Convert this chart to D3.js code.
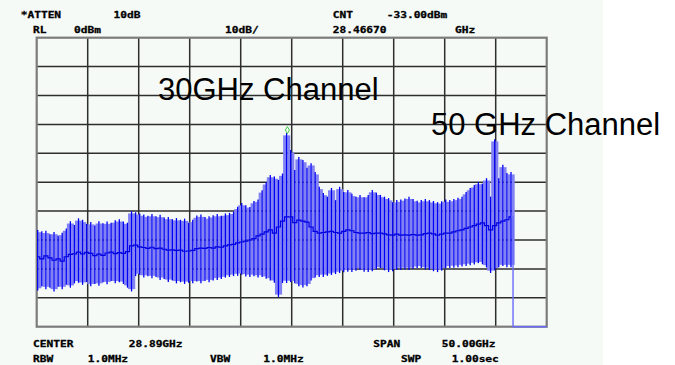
<!DOCTYPE html>
<html>
<head>
<meta charset="utf-8">
<script src="https://cdn.jsdelivr.net/npm/d3@7"></script>
<style>
  html, body { margin: 0; padding: 0; background: #ffffff; }
  svg { display: block; }
</style>
</head>
<body>
<svg id="chart" width="675" height="365"></svg>
<script>
// ---- Analyzer settings ----
const centerGHz = 28.89;
const spanGHz = 50.0;
const refLevelDbm = 0;
const dbPerDiv = 10;
const divisions = 10;
const sweepStartGHz = 3.99;   // first displayed sweep column
const sweepStepGHz = 0.4;     // column spacing
const floorDbm = -100;        // bottom of display
const markerFreqGHz = 28.4667;
const markerLevelDbm = -33.00;

// ---- Trace: per-column peak, trough and average level (dBm) ----
const hiDbm = [
  -66.5, -67.0, -66.8, -68.0, -67.2, -68.5, -67.5, -66.0, -63.5, -64.8,
  -62.5, -63.0, -64.5, -63.8, -65.0, -63.5, -64.2, -63.6, -64.0, -63.2,
  -62.8, -63.6, -64.0, -60.0, -60.4, -60.8, -61.2, -61.6, -61.0, -61.8,
  -61.3, -62.2, -62.0, -62.8, -62.4, -63.0, -62.6, -64.0, -63.0, -61.5,
  -61.2, -62.0, -61.8, -61.4, -61.0, -61.6, -60.8, -60.6, -60.2, -58.5,
  -57.2, -58.0, -58.6, -56.5, -56.0, -52.8, -50.0, -47.5, -48.0, -49.2,
  -47.0, -33.0, -38.9, -45.8, -41.3, -42.3, -45.0, -43.4, -46.5, -51.6,
  -53.7, -55.0, -52.0, -56.2, -51.6, -53.4, -52.7, -54.0, -55.0, -54.4,
  -55.2, -54.4, -52.7, -53.6, -54.4, -55.0, -55.5, -56.9, -56.2, -56.0,
  -55.6, -55.0, -55.8, -56.4, -56.2, -55.8, -56.2, -56.5, -56.9, -56.6,
  -56.0, -56.2, -55.8, -55.4, -55.0, -53.4, -52.0, -51.0, -49.9, -50.5,
  -48.6, -55.0, -35.1, -48.6, -44.0, -46.8, -46.5
];
const loDbm = [
  -87.5, -86.0, -87.0, -86.5, -87.8, -86.2, -87.0, -85.5, -86.5, -85.0,
  -84.8, -85.5, -84.5, -86.0, -85.2, -85.8, -84.6, -85.3, -84.2, -85.0,
  -84.6, -85.2, -86.5, -87.8, -82.5, -82.0, -83.0, -82.5, -83.2, -82.8,
  -83.8, -83.5, -84.5, -84.0, -85.0, -84.6, -85.2, -84.8, -85.0, -84.4,
  -85.0, -84.2, -84.6, -84.0, -83.8, -83.5, -83.0, -82.8, -82.5, -82.4,
  -82.0, -82.6, -82.8, -82.5, -83.0, -82.8, -83.4, -84.0, -84.8, -89.7,
  -84.9, -84.9, -84.5, -85.0, -86.0, -86.4, -86.0, -84.0, -83.0, -82.8,
  -82.8, -82.4, -82.1, -81.8, -81.4, -81.2, -81.0, -81.1, -80.6, -80.4,
  -81.0, -81.1, -80.8, -80.2, -79.7, -80.5, -81.1, -80.8, -80.4, -80.4,
  -80.2, -80.4, -80.0, -79.8, -79.7, -80.2, -80.4, -80.8, -81.1, -80.6,
  -79.8, -79.7, -79.6, -79.4, -79.2, -79.0, -78.7, -78.5, -78.0, -78.4,
  -79.5, -81.4, -80.5, -79.4, -79.0, -79.4, -79.4
];
const midDbm = [
  -75.8, -76.5, -75.5, -76.2, -77.0, -76.5, -77.3, -75.8, -75.0, -74.8,
  -74.2, -74.8, -74.3, -74.6, -75.4, -74.9, -75.3, -74.5, -74.2, -74.7,
  -74.4, -74.6, -74.0, -72.0, -71.8, -72.4, -72.6, -72.9, -72.5, -73.0,
  -72.8, -73.2, -73.5, -73.4, -73.6, -73.5, -73.9, -73.8, -73.6, -73.0,
  -72.8, -72.9, -72.6, -72.8, -72.4, -72.5, -72.0, -71.7, -71.5, -71.0,
  -70.7, -70.4, -70.0, -69.5, -68.6, -68.0, -67.2, -66.5, -67.6, -65.5,
  -63.5, -62.0, -62.0, -64.0, -63.1, -63.5, -63.8, -65.5, -67.0, -67.6,
  -67.4, -67.2, -67.0, -67.4, -67.6, -67.0, -66.5, -66.8, -67.4, -67.6,
  -67.6, -67.4, -67.8, -67.6, -67.6, -67.9, -68.2, -68.3, -68.0, -68.3,
  -68.2, -68.3, -68.1, -68.3, -68.2, -67.8, -67.6, -67.9, -68.3, -68.0,
  -67.6, -67.6, -67.2, -66.8, -66.5, -66.0, -65.5, -65.0, -64.5, -64.1,
  -65.0, -66.5, -65.0, -64.1, -63.5, -63.0, -62.0
];

// ---- Annotation text ----
const headerLabels = ["*ATTEN", "10dB", "CNT", "-33.00dBm"];
const scaleLabels = ["RL", "0dBm", "10dB/", "28.46670", "GHz"];
const footerLabels = ["CENTER", "28.89GHz", "SPAN", "50.00GHz"];
const bwLabels = ["RBW", "1.0MHz", "VBW", "1.0MHz", "SWP", "1.00sec"];
const channelLabels = ["30GHz Channel", "50 GHz Channel"];

// ---- Layout ----
const svg = d3.select("#chart");
const plot = { left: 36.7, right: 546.7, top: 37.7, bottom: 326.7 };

const x = d3.scaleLinear()
  .domain([centerGHz - spanGHz / 2, centerGHz + spanGHz / 2])
  .range([plot.left, plot.right]);
const y = d3.scaleLinear()
  .domain([refLevelDbm - dbPerDiv * divisions, refLevelDbm])
  .range([plot.bottom, plot.top]);

// screen background of the instrument display
svg.append("rect")
  .attr("x", 0).attr("y", 0).attr("width", 603).attr("height", 365)
  .attr("fill", "#f5faf7");

// ---- Graticule ----
const xTicks = d3.range(divisions + 1).map(i => x.domain()[0] + i * spanGHz / divisions);
const yTicks = d3.range(divisions + 1).map(i => y.domain()[0] + i * dbPerDiv);

const grid = svg.append("g");
grid.selectAll("line.v").data(xTicks.slice(1, -1)).join("line")
  .attr("x1", d => x(d)).attr("x2", d => x(d))
  .attr("y1", plot.top).attr("y2", plot.bottom)
  .attr("stroke", "#2e2e2e").attr("stroke-width", 1.5);
grid.selectAll("line.h").data(yTicks.slice(1, -1)).join("line")
  .attr("y1", d => y(d)).attr("y2", d => y(d))
  .attr("x1", plot.left).attr("x2", plot.right)
  .attr("stroke", "#2e2e2e").attr("stroke-width", 1.5);
grid.append("rect")
  .attr("x", plot.left).attr("y", plot.top)
  .attr("width", plot.right - plot.left).attr("height", plot.bottom - plot.top)
  .attr("fill", "none").attr("stroke", "#7c7c7c").attr("stroke-width", 2.2);

// ---- Trace ----
const cols = hiDbm.map((h, i) => ({
  f: sweepStartGHz + i * sweepStepGHz, hi: h, lo: loDbm[i], mid: midDbm[i]
}));

const trace = svg.append("g");
const colW = x(sweepStartGHz + sweepStepGHz) - x(sweepStartGHz);

// lighter band drawn by the trace sweeping up and down between columns
const bandTop = (d, i) => Math.max(d.hi, (cols[i + 1] || d).hi) - 0.8;
const bandBot = (d, i) => Math.min(d.lo, (cols[i + 1] || d).lo) + 0.8;
trace.selectAll("rect.sweep").data(cols).join("rect")
  .attr("x", d => x(d.f) + 0.6)
  .attr("width", colW - 1.0)
  .attr("y", (d, i) => y(bandTop(d, i)))
  .attr("height", (d, i) => y(bandBot(d, i)) - y(bandTop(d, i)))
  .attr("fill", "#8282f3");

// individual sweep excursions
trace.selectAll("line.col").data(cols).join("line")
  .attr("x1", d => x(d.f)).attr("x2", d => x(d.f))
  .attr("y1", d => y(d.hi)).attr("y2", d => y(d.lo))
  .attr("stroke", "#0000f5").attr("stroke-width", 1.3);

// average level line
trace.append("path")
  .datum(cols)
  .attr("fill", "none").attr("stroke", "#0000e0").attr("stroke-width", 1.2)
  .attr("d", d3.line().x(d => x(d.f)).y(d => y(d.mid)).curve(d3.curveStep));

// end of the signal: trace falls to the display floor
const last = cols[cols.length - 1];
const endF = last.f + sweepStepGHz / 2;
trace.append("path")
  .datum([
    { f: last.f, v: last.mid },
    { f: endF, v: last.mid },
    { f: endF, v: floorDbm },
    { f: x.domain()[1], v: floorDbm }
  ])
  .attr("fill", "none").attr("stroke", "#6a6af8").attr("stroke-width", 1.4)
  .attr("d", d3.line().x(d => x(d.f)).y(d => y(d.v)));

// ---- Marker ----
svg.append("path")
  .attr("transform", `translate(${x(markerFreqGHz)},${y(markerLevelDbm) - 3})`)
  .attr("d", d3.symbol().type(d3.symbolDiamond).size(14)())
  .attr("fill", "none").attr("stroke", "#44cc44").attr("stroke-width", 1);

// ---- Instrument annotation text ----
function monoText(str, px, py) {
  svg.append("text")
    .attr("transform", `translate(${px},${py}) scale(1.4,1)`)
    .attr("font-family", "DejaVu Sans Mono, monospace")
    .attr("font-weight", "bold")
    .attr("font-size", 8)
    .attr("fill", "#000000")
    .attr("stroke", "#000000").attr("stroke-width", 0.25)
    .text(str);
}
const rowY = [17.5, 32.5, 347, 362];
[20.7, 113.5, 332.7, 386.7].forEach((px, i) => monoText(headerLabels[i], px, rowY[0]));
[33, 74, 225, 332.7, 455].forEach((px, i) => monoText(scaleLabels[i], px, rowY[1]));
[33, 128.7, 373.3, 441.7].forEach((px, i) => monoText(footerLabels[i], px, rowY[2]));
[33, 87.7, 210, 263.3, 401, 451.7].forEach((px, i) => monoText(bwLabels[i], px, rowY[3]));

// ---- Channel callouts ----
const callouts = svg.append("g")
  .attr("font-family", "Liberation Sans, Arial, sans-serif")
  .attr("font-size", 31)
  .attr("fill", "#000000");
callouts.append("text").attr("x", 158).attr("y", 99.5).text(channelLabels[0]);
callouts.append("text").attr("x", 431).attr("y", 135).text(channelLabels[1]);
</script>
</body>
</html>
